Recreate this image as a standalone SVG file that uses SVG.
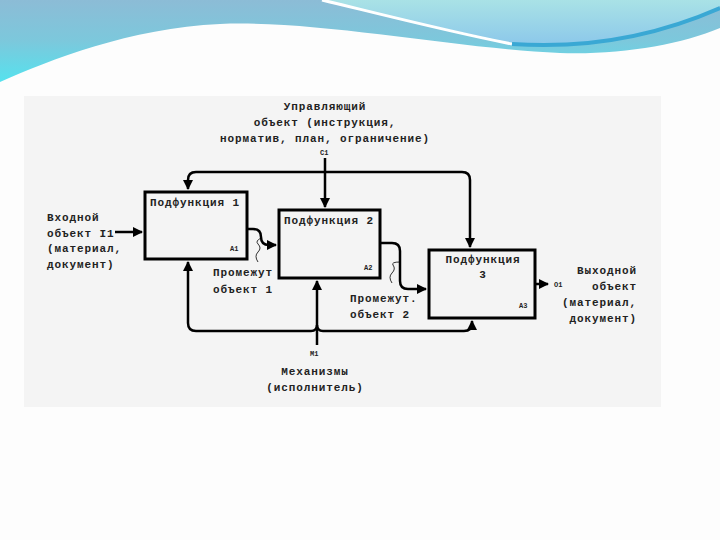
<svg xmlns="http://www.w3.org/2000/svg" width="720" height="540" viewBox="0 0 720 540">
<defs>
<linearGradient id="gBlue" x1="0" y1="0" x2="0" y2="1">
<stop offset="0" stop-color="#8cbcd6"/>
<stop offset="0.5" stop-color="#7cc8dc"/>
<stop offset="1" stop-color="#55e2ee"/>
</linearGradient>
<linearGradient id="gLight" x1="0" y1="0" x2="0" y2="1">
<stop offset="0" stop-color="#a9e2e6"/>
<stop offset="1" stop-color="#8cc8ea"/>
</linearGradient>
<marker id="arr" viewBox="0 0 10 10" refX="9" refY="5" markerWidth="4" markerHeight="4" orient="auto" markerUnits="strokeWidth">
<path d="M0,0 L10,5 L0,10 Z" fill="#000"/>
</marker>
<style>
.t{font-family:"Liberation Mono","DejaVu Sans Mono",monospace;font-size:11px;font-weight:bold;letter-spacing:0.9px;fill:#222}
.s{font-family:"Liberation Mono","DejaVu Sans Mono",monospace;font-size:7px;font-weight:bold;fill:#222}
.box{fill:#f4f4f4;stroke:#000;stroke-width:3}
.ln{fill:none;stroke:#000;stroke-width:2.5}
.sq{fill:none;stroke:#000;stroke-width:0.8}
</style>
</defs>
<rect width="720" height="540" fill="#fdfdfd"/>
<g id="header">
<path d="M0,0 H720 V28 C680,45 620,55 560,53 C450,48 320,20 220,24 C130,28 50,60 0,82 Z" fill="url(#gBlue)"/>
<path d="M322,0 H720 V6 C680,30 600,48 520,44 C450,30 380,15 322,0 Z" fill="url(#gLight)"/>
<path d="M322,0 C380,14 450,32 512,44" fill="none" stroke="#fff" stroke-width="3"/>
<path d="M512,44 C600,50 670,30 720,8" fill="none" stroke="#3aa8d4" stroke-width="4"/>
</g>
<rect id="panel" x="24" y="96" width="637" height="311" fill="#f4f4f4"/>
<g id="connectors">
<path class="ln" d="M325,158 V207" marker-end="url(#arr)"/>
<path class="ln" d="M325,172 H196 Q188,172 188,180 V189" marker-end="url(#arr)"/>
<path class="ln" d="M325,172 H462 Q470,172 470,180 V247" marker-end="url(#arr)"/>
<path class="ln" d="M115,232 H142" marker-end="url(#arr)"/>
<path class="ln" d="M247,229 H253 Q261,229 261,237 Q261,245 269,245 H276" marker-end="url(#arr)"/>
<path class="ln" d="M380,243 H392 Q400,243 400,251 V281 Q400,289 408,289 H426" marker-end="url(#arr)"/>
<path class="ln" d="M535,284 H548" marker-end="url(#arr)"/>
<path class="ln" d="M317,345 V281" marker-end="url(#arr)"/>
<path class="ln" d="M311,331 H196 Q188,331 188,323 V262" marker-end="url(#arr)"/>
<path class="ln" d="M323,331 H464 Q472,331 472,323 V321" marker-end="url(#arr)"/>
<path class="ln" d="M311,331 Q317,331 317,325 Q317,331 323,331"/>
<path class="sq" d="M258,262 Q254,256 258,252 Q262,248 258,244 Q255,241 261,238"/>
<path class="sq" d="M392,283 Q388,277 392,273 Q396,269 393,265 Q391,262 400,262"/>
</g>
<g id="box1">
<rect class="box" x="145" y="192" width="102" height="67"/>
<text class="t" x="150" y="206">Подфункция 1</text>
<text class="s" x="230" y="251">A1</text>
</g>
<g id="box2">
<rect class="box" x="279" y="210" width="101" height="68"/>
<text class="t" x="284" y="224">Подфункция 2</text>
<text class="s" x="364" y="270">A2</text>
</g>
<g id="box3">
<rect class="box" x="429" y="250" width="106" height="68"/>
<text class="t" x="483" y="263" text-anchor="middle">Подфункция</text>
<text class="t" x="483" y="278" text-anchor="middle">3</text>
<text class="s" x="519" y="308">A3</text>
</g>
<g id="labels">
<text class="t" x="325" y="110" text-anchor="middle">Управляющий</text>
<text class="t" x="325" y="126" text-anchor="middle">объект (инструкция,</text>
<text class="t" x="325" y="142" text-anchor="middle">норматив, план, ограничение)</text>
<text class="s" x="320" y="155">C1</text>
<text class="t" x="47" y="221">Входной</text>
<text class="t" x="47" y="237">объект I1</text>
<text class="t" x="47" y="252">(материал,</text>
<text class="t" x="47" y="268">документ)</text>
<text class="t" x="213" y="276">Промежут</text>
<text class="t" x="213" y="293">объект 1</text>
<text class="t" x="350" y="302">Промежут.</text>
<text class="t" x="350" y="318">объект 2</text>
<text class="s" x="554" y="287">O1</text>
<text class="t" x="637" y="274" text-anchor="end">Выходной</text>
<text class="t" x="637" y="290" text-anchor="end">объект</text>
<text class="t" x="637" y="306" text-anchor="end">(материал,</text>
<text class="t" x="637" y="322" text-anchor="end">документ)</text>
<text class="s" x="310" y="356">M1</text>
<text class="t" x="315" y="375" text-anchor="middle">Механизмы</text>
<text class="t" x="315" y="391" text-anchor="middle">(исполнитель)</text>
</g>
</svg>
